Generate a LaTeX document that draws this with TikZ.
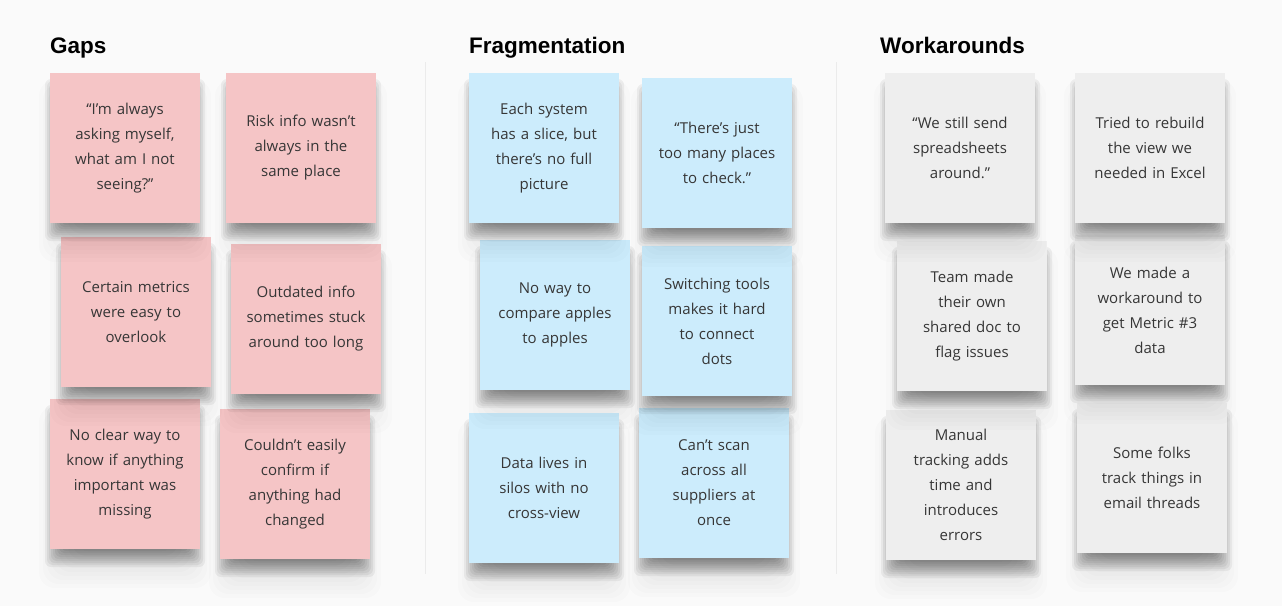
\documentclass[tikz,border=0pt]{standalone}
\usepackage{fontspec}
\usepackage{tikz}
\newfontfamily\notefont{Open Sans}
\newfontfamily\headfont{Liberation Sans}

\definecolor{board}{HTML}{FAFAFA}
\definecolor{divline}{HTML}{EBEBEB}
\definecolor{gapspink}{HTML}{F5C5C6}
\definecolor{fragblue}{HTML}{CCECFC}
\definecolor{workgray}{HTML}{EEEEEE}
\definecolor{inktext}{HTML}{363636}

\tikzset{
  sticky/.style={rectangle, minimum width=150, minimum height=150, inner sep=0pt,
    text width=140, align=center, text=inktext,
    font=\notefont\fontsize{15}{25}\selectfont},
  gapsnote/.style={sticky, fill=gapspink},
  fragnote/.style={sticky, fill=fragblue},
  worknote/.style={sticky, fill=workgray},
  columnhead/.style={anchor=base west, inner sep=0pt,
    font=\headfont\bfseries\fontsize{22.5}{26}\selectfont},
  softlayer/.style={fill=black, rounded corners=6pt}
}

% ombre puis post-it : style, nom, x, y, texte
\newcommand{\stickynote}[5]{
  \foreach \e in {-18,-14,...,18}
    \fill[softlayer, rounded corners=16pt, opacity=0.013] ({#3-68-(\e)},{#4-50-(\e)}) rectangle ({#3+68+(\e)},{#4+96+(\e)});
  \foreach \e in {-9,-7,...,9}
    \fill[softlayer, opacity=0.052] ({#3-71-(\e)},{#4-60-(\e)}) rectangle ({#3+71+(\e)},{#4+84+(\e)});
  \node[#1] (#2) at (#3,#4) {#5};
}

\begin{document}
\begin{tikzpicture}[x=1pt, y=-1pt]
            % Fond du tableau
            \fill[white] (0,0) rectangle (1282,613);
            \fill[board] (0,0) rectangle (1282,606);
            \useasboundingbox (0,0) rectangle (1282,613);

            % Séparateurs
            \draw[divline, line width=1pt] (425.5,62) -- (425.5,574);
            \draw[divline, line width=1pt] (836.5,62) -- (836.5,574);

            % Titres
            \node[columnhead] (gapshead) at (50,53) {Gaps};
            \node[columnhead] (fraghead) at (469,53) {Fragmentation};
            \node[columnhead] (workhead) at (880,53) {Workarounds};

            % Troisième rangée
            \stickynote{gapsnote}{g5}{125}{474}{No clear way to\\know if anything\\important was\\missing}
            \stickynote{gapsnote}{g6}{295}{484}{Couldn’t easily\\confirm if\\anything had\\changed}
            \stickynote{fragnote}{f5}{544}{488}{Data lives in\\silos with no\\cross-view}
            \stickynote{fragnote}{f6}{714}{483}{Can’t scan\\across all\\suppliers at\\once}
            \stickynote{worknote}{w5}{961}{485}{Manual\\tracking adds\\time and\\introduces\\errors}
            \stickynote{worknote}{w6}{1152}{478}{Some folks\\track things in\\email threads}

            % Deuxième rangée
            \stickynote{gapsnote}{g3}{136}{312}{Certain metrics\\were easy to\\overlook}
            \stickynote{gapsnote}{g4}{306}{319}{Outdated info\\sometimes stuck\\around too long}
            \stickynote{fragnote}{f3}{555}{315}{No way to\\compare apples\\to apples}
            \stickynote{fragnote}{f4}{717}{321}{Switching tools\\makes it hard\\to connect\\dots}
            \stickynote{worknote}{w3}{972}{316}{Team made\\their own\\shared doc to\\flag issues}
            \stickynote{worknote}{w4}{1150}{310}{We made a\\workaround to\\get Metric \#3\\data}

            % Première rangée
            \stickynote{gapsnote}{g1}{125}{148}{“I’m always\\asking myself,\\what am I not\\seeing?”}
            \stickynote{gapsnote}{g2}{301}{148}{Risk info wasn’t\\always in the\\same place}
            \stickynote{fragnote}{f1}{544}{148}{Each system\\has a slice, but\\there’s no full\\picture}
            \stickynote{fragnote}{f2}{717}{153}{“There’s just\\too many places\\to check.”}
            \stickynote{worknote}{w1}{960}{148}{“We still send\\spreadsheets\\around.”}
            \stickynote{worknote}{w2}{1150}{148}{Tried to rebuild\\the view we\\needed in Excel}
        \end{tikzpicture}
\end{document}
